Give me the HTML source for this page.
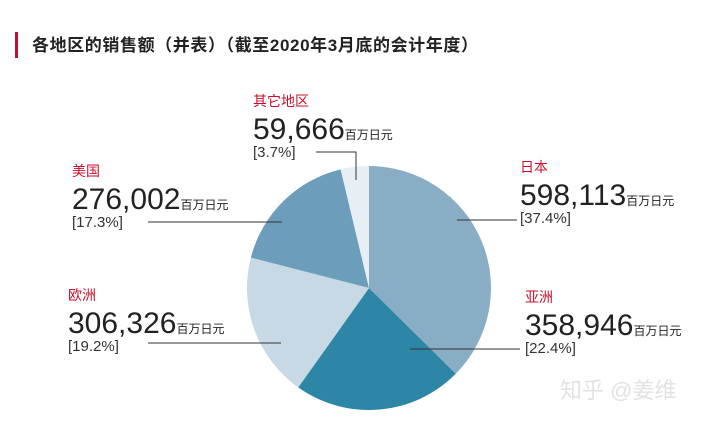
<!DOCTYPE html>
<html><head><meta charset="utf-8"><style>
body{margin:0;width:720px;height:420px;background:#fff;overflow:hidden;font-family:"Liberation Sans","Noto Sans CJK SC",sans-serif;}
svg text{font-family:"Liberation Sans","Noto Sans CJK SC",sans-serif;}
</style></head><body>
<svg width="720" height="420">
<rect x="15" y="32" width="3" height="26" fill="#c8102e"/>
<text x="32" y="51" font-size="17" font-weight="bold" fill="#222" letter-spacing="0.6">各地区的销售额（并表）（截至2020年3月底的会计年度）</text>
<g id="slices"></g>
<g id="labels"></g>
<text x="560" y="398" font-size="22" fill="#e2e2e2">知乎 @姜维</text>
</svg>
<script>
const regions=["日本","亚洲","欧洲","美国","其它地区"];
const values=[598113,358946,306326,276002,59666];
const pctLabels=["37.4%","22.4%","19.2%","17.3%","3.7%"];
const colors=["#89adc5","#2e86a6","#c6d9e4","#6c9ebb","#e7eef4"];
const cx=369,cy=288,r=122;
const ns="http://www.w3.org/2000/svg";
const total=values.reduce((a,b)=>a+b,0);
const g=document.getElementById('slices');
let a0=0;
values.forEach((v,i)=>{
  const a1=a0+v/total*2*Math.PI;
  const p=(a)=>[cx+r*Math.sin(a),cy-r*Math.cos(a)];
  const [x0,y0]=p(a0),[x1,y1]=p(a1);
  const path=document.createElementNS(ns,'path');
  path.setAttribute('d',`M${cx},${cy}L${x0},${y0}A${r},${r} 0 ${a1-a0>Math.PI?1:0} 1 ${x1},${y1}Z`);
  path.setAttribute('fill',colors[i]);
  
  
  g.appendChild(path);
  a0=a1;
});
const L=[
 {x:520,y:172,pts:[[517,220],[457,220]]},
 {x:525,y:302,pts:[[520,349],[410,349]]},
 {x:68,y:300,pts:[[148,343],[281,343]]},
 {x:72,y:176,pts:[[148,222],[282,222]]},
 {x:253,y:106,pts:[[316,152],[356,152],[356,180]]}
];
const lg=document.getElementById('labels');
function t(x,y,s,size,fill,name){const e=document.createElementNS(ns,'text');e.setAttribute('x',x);e.setAttribute('y',y);e.setAttribute('font-size',size);e.setAttribute('fill',fill);e.textContent=s;


lg.appendChild(e);return e;}
values.forEach((v,i)=>{
  const l=L[i];
  t(l.x,l.y,regions[i],14,'#c8102e','region-label');
  const n=t(l.x,l.y+33,v.toLocaleString('en-US'),30,'#222','value-label');
  const u=document.createElementNS(ns,'tspan');u.setAttribute('font-size','12');u.textContent='百万日元';n.appendChild(u);
  t(l.x,l.y+51,'['+pctLabels[i]+']',15,'#333','percent-label');
  const pl=document.createElementNS(ns,'polyline');
  pl.setAttribute('points',l.pts.map(q=>q.join(',')).join(' '));
  pl.setAttribute('fill','none');pl.setAttribute('stroke','#333');pl.setAttribute('stroke-width','1');
  
  
  lg.appendChild(pl);
});
</script>
</body></html>
